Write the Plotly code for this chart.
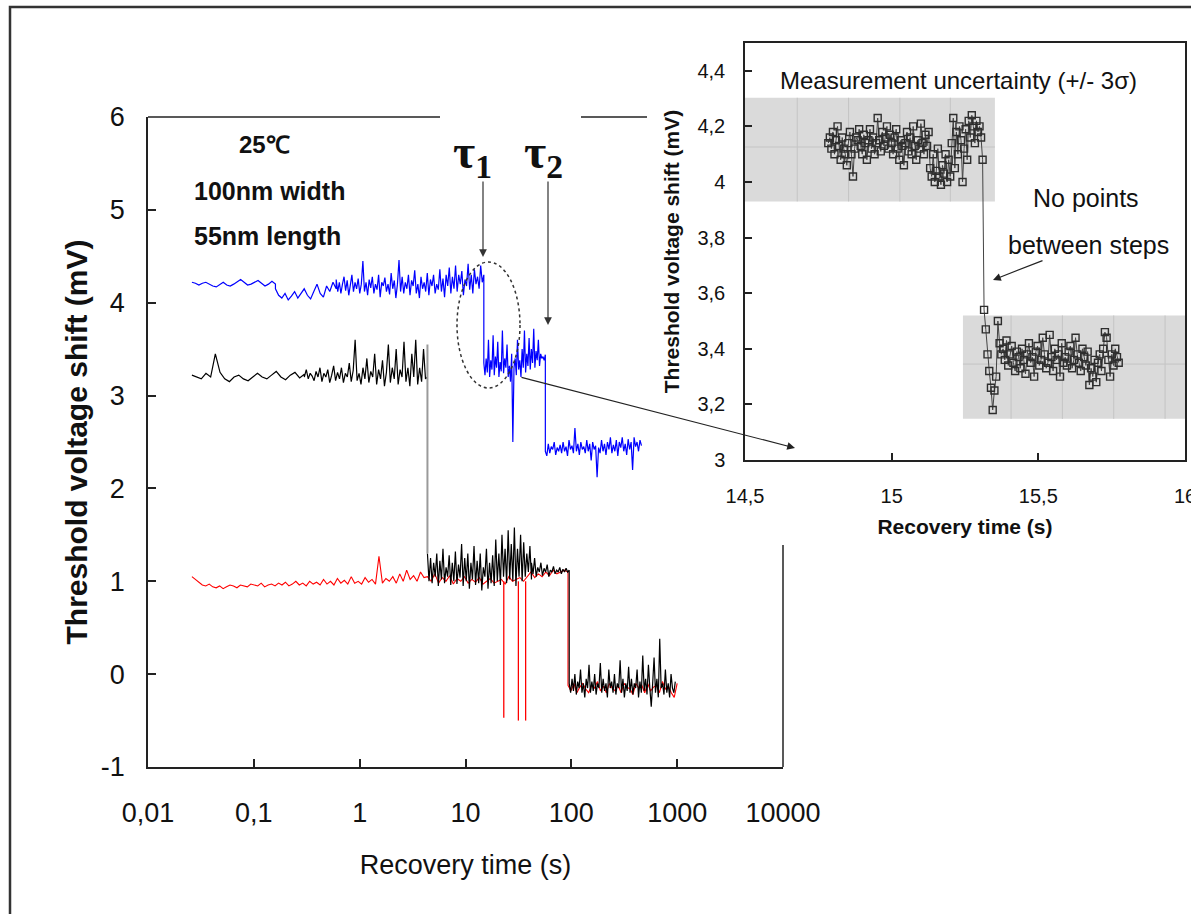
import numpy as np
import plotly.graph_objects as go

# ---------------- data ----------------
# main chart: each segment = (t_start, t_end) and the values along it
blue_seg_bounds = [(0.026, 0.16), (0.16, 0.6), (0.6, 14.9), (14.9, 56.8), (56.8, 460)]
blue_seg_vals = [
    [4.22, 4.21, 4.19, 4.21, 4.22, 4.2, 4.18, 4.17, 4.2, 4.22, 4.19, 4.18, 4.2, 4.23, 4.25, 4.22, 4.19,
     4.2, 4.22, 4.24, 4.21, 4.18, 4.2, 4.23, 4.2],
    [4.15, 4.08, 4.05, 4.1, 4.03, 4.07, 4.12, 4.05, 4.1, 4.15, 4.08, 4.04, 4.12, 4.2, 4.1, 4.06, 4.18,
     4.12, 4.22, 4.15],
    [4.25, 4.12, 4.22, 4.1, 4.2, 4.28, 4.13, 4.24, 4.08, 4.19, 4.3, 4.12, 4.22, 4.15, 4.26, 4.1, 4.2, 4.45,
     4.12, 4.22, 4.08, 4.25, 4.16, 4.28, 4.1, 4.2, 4.14, 4.3, 4.06, 4.22, 4.18, 4.27, 4.12, 4.2, 4.09, 4.32,
     4.15, 4.24, 4.05, 4.2, 4.46, 4.12, 4.28, 4.1, 4.22, 4.15, 4.3, 4.08, 4.24, 4.18, 4.35, 4.1, 4.2, 4.05,
     4.28, 4.15, 4.22, 4.12, 4.32, 4.08, 4.25, 4.18, 4.3, 4.1, 4.2, 4.14, 4.36, 4.12, 4.26, 4.06, 4.3, 4.18,
     4.38, 4.1, 4.28, 4.15, 4.4, 4.12, 4.3, 4.2, 4.34, 4.08, 4.25, 4.18, 4.42, 4.14, 4.3, 4.1, 4.36, 4.2,
     4.28, 4.15, 4.4, 4.22, 4.3],
    [3.35, 3.22, 3.4, 3.25, 3.6, 3.2, 3.38, 3.28, 3.65, 3.22, 3.42, 3.3, 3.58, 3.2, 3.36, 3.26, 3.7, 3.24,
     3.4, 3.3, 3.55, 3.2, 3.32, 3.15, 3.45, 2.5, 3.3, 3.4, 3.22, 3.6, 3.28, 3.38, 3.2, 3.5, 3.3, 3.7, 3.25,
     3.45, 3.32, 3.62, 3.28, 3.5, 3.35, 3.72, 3.3, 3.48, 3.38, 3.6, 3.32, 3.45, 3.4, 3.42, 3.38, 3.44],
    [2.4, 2.35, 2.48, 2.38, 2.45, 2.42, 2.5, 2.36, 2.44, 2.4, 2.47, 2.38, 2.5, 2.4, 2.45, 2.35, 2.52, 2.42,
     2.46, 2.38, 2.65, 2.4, 2.48, 2.36, 2.5, 2.42, 2.45, 2.38, 2.52, 2.4, 2.48, 2.3, 2.5, 2.42, 2.46, 2.12,
     2.44, 2.38, 2.52, 2.4, 2.48, 2.36, 2.5, 2.42, 2.55, 2.38, 2.47, 2.4, 2.52, 2.35, 2.5, 2.44, 2.55, 2.4,
     2.48, 2.36, 2.53, 2.42, 2.5, 2.2, 2.55, 2.45, 2.5, 2.4, 2.52, 2.46],
]

black_seg_bounds = [(0.026, 0.3), (0.3, 4.37), (4.37, 42), (42, 95.5), (95.5, 960)]
black_seg_vals = [
    [3.22, 3.2, 3.18, 3.24, 3.2, 3.45, 3.25, 3.18, 3.15, 3.2, 3.22, 3.18, 3.16, 3.2, 3.24, 3.2, 3.18, 3.22,
     3.26, 3.2, 3.17, 3.22, 3.25, 3.19, 3.23],
    [3.2, 3.28, 3.18, 3.24, 3.21, 3.16, 3.26, 3.2, 3.3, 3.15, 3.24, 3.2, 3.28, 3.14, 3.22, 3.32, 3.16, 3.25,
     3.18, 3.3, 3.14, 3.24, 3.2, 3.35, 3.15, 3.27, 3.6, 3.16, 3.24, 3.12, 3.3, 3.18, 3.4, 3.14, 3.26, 3.2,
     3.45, 3.12, 3.28, 3.18, 3.38, 3.1, 3.25, 3.55, 3.14, 3.3, 3.18, 3.5, 3.12, 3.28, 3.2, 3.58, 3.15, 3.3,
     3.1, 3.45, 3.2, 3.6, 3.12, 3.3, 3.15, 3.5, 3.18, 3.2],
    [1.3, 1.0, 1.25, 0.98, 1.2, 1.05, 1.3, 0.95, 1.22, 1.02, 1.35, 0.98, 1.15, 1.05, 1.28, 0.96, 1.2, 1.0,
     1.32, 0.97, 1.18, 1.04, 1.4, 0.95, 1.25, 1.0, 1.3, 0.92, 1.2, 1.02, 1.38, 0.96, 1.22, 0.98, 1.3, 0.9,
     1.15, 1.05, 1.35, 0.92, 1.2, 0.98, 1.28, 0.95, 1.45, 1.0, 1.3, 0.96, 1.5, 1.05, 1.35, 0.98, 1.55, 1.02,
     1.4, 1.0, 1.58, 0.95, 1.35, 1.05, 1.5, 1.0, 1.42, 1.05, 1.3, 1.1, 1.38, 1.02],
    [1.2, 1.08, 1.25, 1.05, 1.15, 1.1, 1.2, 1.06, 1.14, 1.1, 1.18, 1.05, 1.12, 1.1, 1.16, 1.08, 1.12, 1.1,
     1.15, 1.08, 1.13, 1.1, 1.14, 1.1, 1.12],
    [-0.1, -0.2, -0.05, -0.18, 0.0, -0.22, -0.08, -0.15, 0.05, -0.2, -0.1, -0.25, -0.05, -0.15, 0.1, -0.2,
     -0.08, -0.18, 0.0, -0.22, -0.1, -0.15, 0.12, -0.2, -0.05, -0.18, -0.1, -0.25, 0.05, -0.15, -0.08, -0.2,
     0.0, -0.22, -0.1, -0.15, 0.15, -0.2, -0.05, -0.25, -0.1, -0.18, 0.08, -0.2, -0.05, -0.22, -0.1, -0.15,
     0.05, -0.25, -0.08, -0.2, 0.2, -0.18, -0.05, -0.22, 0.1, -0.15, -0.35, -0.1, 0.18, -0.2, -0.05, -0.25,
     0.38, -0.15, -0.1, -0.22, 0.05, -0.2, -0.1, -0.25, 0.0, -0.15, -0.2, -0.08],
]
black_step_t = [4.37, 4.37]
black_step_v = [3.55, 1.3]

red_seg_bounds = [(0.026, 4.37), (4.37, 93), (93, 1000)]
red_seg_vals = [
    [1.05, 1.02, 0.98, 0.96, 0.95, 0.97, 0.94, 0.93, 0.95, 0.92, 0.94, 0.96, 0.95, 0.93, 0.96, 0.95, 0.94,
     0.97, 0.96, 0.95, 0.98, 0.94, 0.96, 0.97, 0.95, 0.98, 0.96, 0.99, 0.95, 0.97, 1.0, 0.96, 0.98, 0.95,
     1.0, 0.97, 0.99, 0.96, 1.02, 0.97, 1.0, 0.96, 1.03, 0.98, 1.01, 0.97, 1.05, 0.98, 1.0, 0.97, 1.04,
     0.99, 1.02, 0.97, 1.27, 0.98, 1.03, 1.0, 1.05, 0.98, 1.08, 1.0, 1.12, 1.02, 1.06, 1.0, 1.1, 1.04, 1.05],
    [1.05, 1.0, 1.08, 0.98, 1.04, 1.0, 1.06, 0.97, 1.03, 1.0, 1.05, 0.98, 1.02, 0.99, 1.04, 0.97, 1.0, 1.03,
     0.98, 1.0, 1.02, 0.97, 1.05, 1.0, 1.02, 1.04, 1.0, 1.05, 1.1, 1.04, 1.08, 1.05, 1.1, 1.06, 1.12, 1.08,
     1.1, 1.12, 1.1],
    [-0.12, -0.18, -0.1, -0.2, -0.14, -0.1, -0.16, -0.2, -0.12, -0.15, -0.08, -0.18, -0.13, -0.2, -0.1,
     -0.15, -0.18, -0.12, -0.2, -0.1, -0.14, -0.16, -0.22, -0.1, -0.15, -0.12, -0.2, -0.1, -0.18, -0.14,
     -0.12, -0.2, -0.08, -0.16, -0.13, -0.2, -0.25, -0.1],
]
red_spike_t = [23, 31.6, 37]
red_spike_top = [1.0, 1.0, 1.0]
red_spike_low = [-0.47, -0.5, -0.5]

# inset (zoom around tau1)
inset_a_bounds = (14.784, 15.31)
inset_a_vals = [4.14, 4.16, 4.12, 4.18, 4.1, 4.15, 4.2, 4.13, 4.08, 4.16, 4.12, 4.1, 4.06, 4.14, 4.18, 4.1,
                4.02, 4.12, 4.16, 4.15, 4.19, 4.13, 4.1, 4.17, 4.14, 4.08, 4.15, 4.19, 4.12, 4.16, 4.1, 4.14,
                4.23, 4.15, 4.11, 4.18, 4.13, 4.16, 4.2, 4.12, 4.17, 4.14, 4.1, 4.16, 4.19, 4.12, 4.08, 4.15,
                4.13, 4.06, 4.14, 4.18, 4.11, 4.16, 4.1, 4.2, 4.13, 4.08, 4.15, 4.12, 4.21, 4.14, 4.1, 4.17,
                4.13, 4.18, 4.05, 4.02, 4.1, 4.0, 4.04, 4.12, 4.02, 3.99, 4.06, 4.03, 4.1, 4.0, 4.08, 4.02,
                4.14, 4.23, 4.05, 4.18, 4.1, 4.2, 4.15, 4.0, 4.12, 4.19, 4.08, 4.22, 4.16, 4.24, 4.2, 4.14,
                4.22, 4.18, 4.2, 4.16, 4.08]
inset_b_bounds = (15.315, 15.774)
inset_b_vals = [3.54, 3.47, 3.38, 3.32, 3.26, 3.18, 3.25, 3.3, 3.5, 3.42, 3.38, 3.4, 3.36, 3.43, 3.34, 3.38,
                3.41, 3.35, 3.32, 3.39, 3.37, 3.33, 3.4, 3.36, 3.31, 3.38, 3.42, 3.35, 3.37, 3.3, 3.39, 3.41,
                3.34, 3.36, 3.44, 3.38, 3.33, 3.35, 3.45, 3.37, 3.32, 3.4, 3.36, 3.38, 3.3, 3.42, 3.35, 3.37,
                3.34, 3.39, 3.41, 3.33, 3.36, 3.44, 3.38, 3.35, 3.32, 3.4, 3.37, 3.34, 3.39, 3.27, 3.33, 3.3,
                3.36, 3.28, 3.35, 3.38, 3.32, 3.4, 3.46, 3.44, 3.36, 3.3, 3.38, 3.34, 3.4, 3.37, 3.35]
band_a = dict(x0=14.5, x1=15.352, y0=3.93, y1=4.303)
band_b = dict(x0=15.243, x1=16.0, y0=3.148, y1=3.52)
band_a_mean = 4.126
band_b_mean = 3.345
band_a_grid = [14.678, 14.853, 15.028, 15.2]
band_b_grid = [15.407, 15.582, 15.757, 15.932]

main_xticks = [0.01, 0.1, 1, 10, 100, 1000, 10000]
main_xticktext = ["0,01", "0,1", "1", "10", "100", "1000", "10000"]
main_yticks = [-1, 0, 1, 2, 3, 4, 5, 6]
main_yticktext = ["-1", "0", "1", "2", "3", "4", "5", "6"]
inset_xticks = [14.5, 15, 15.5, 16]
inset_xticktext = ["14,5", "15", "15,5", "16"]
inset_yticks = [3, 3.2, 3.4, 3.6, 3.8, 4, 4.2, 4.4]
inset_yticktext = ["3", "3,2", "3,4", "3,6", "3,8", "4", "4,2", "4,4"]

# ---------------- helpers ----------------
W, H = 1191, 914
FONT = "Liberation Sans, Arial, sans-serif"


def px(x):
    return x / W


def py(y):
    return 1 - y / H


def build(bounds, vals):
    xs, ys = [], []
    for (a, b), v in zip(bounds, vals):
        xs.extend(np.geomspace(a, b, len(v)).tolist())
        ys.extend(v)
    return xs, ys


fig = go.Figure()

# red (underneath)
rx, ry = build(red_seg_bounds, red_seg_vals)
fig.add_trace(go.Scatter(x=rx, y=ry, mode="lines", line=dict(color="#ff0000", width=1.1),
                         name="red", showlegend=False, xaxis="x", yaxis="y"))
sx, sy = [], []
for t, a, b in zip(red_spike_t, red_spike_top, red_spike_low):
    sx += [t, t, None]
    sy += [a, b, None]
fig.add_trace(go.Scatter(x=sx, y=sy, mode="lines", line=dict(color="#ff0000", width=1.3),
                         showlegend=False, xaxis="x", yaxis="y"))

# black
bx, by = build(black_seg_bounds[:2], black_seg_vals[:2])
fig.add_trace(go.Scatter(x=bx, y=by, mode="lines", line=dict(color="#000000", width=1.2),
                         showlegend=False, xaxis="x", yaxis="y"))
bx2, by2 = build(black_seg_bounds[2:], black_seg_vals[2:])
fig.add_trace(go.Scatter(x=bx2, y=by2, mode="lines", line=dict(color="#000000", width=1.2),
                         showlegend=False, xaxis="x", yaxis="y"))
fig.add_trace(go.Scatter(x=black_step_t, y=black_step_v, mode="lines", line=dict(color="#9a9a9a", width=2),
                         showlegend=False, xaxis="x", yaxis="y"))

# blue
ux, uy = build(blue_seg_bounds, blue_seg_vals)
fig.add_trace(go.Scatter(x=ux, y=uy, mode="lines", line=dict(color="#0000ff", width=1.2),
                         showlegend=False, xaxis="x", yaxis="y"))

# inset data
ia_x = np.linspace(inset_a_bounds[0], inset_a_bounds[1], len(inset_a_vals)).tolist()
ib_x = np.linspace(inset_b_bounds[0], inset_b_bounds[1], len(inset_b_vals)).tolist()
fig.add_trace(go.Scatter(x=ia_x + ib_x, y=inset_a_vals + inset_b_vals, mode="lines+markers",
                         line=dict(color="#444444", width=1),
                         marker=dict(symbol="square-open", size=7, color="#2e2e2e", line=dict(width=1.4)),
                         showlegend=False, xaxis="x2", yaxis="y2"))

shapes = []
# inset uncertainty bands and their faint grid
for band in (band_a, band_b):
    shapes.append(dict(type="rect", xref="x2", yref="y2", layer="below", fillcolor="#dadada",
                       line=dict(width=0), **band))
for g in band_a_grid:
    shapes.append(dict(type="line", xref="x2", yref="y2", layer="below", x0=g, x1=g,
                       y0=band_a["y0"], y1=band_a["y1"], line=dict(color="#c4c4c4", width=1)))
for g in band_b_grid:
    shapes.append(dict(type="line", xref="x2", yref="y2", layer="below", x0=g, x1=g,
                       y0=band_b["y0"], y1=band_b["y1"], line=dict(color="#c4c4c4", width=1)))
shapes.append(dict(type="line", xref="x2", yref="y2", layer="below", x0=band_a["x0"], x1=band_a["x1"],
                   y0=band_a_mean, y1=band_a_mean, line=dict(color="#c4c4c4", width=1)))
shapes.append(dict(type="line", xref="x2", yref="y2", layer="below", x0=band_b["x0"], x1=band_b["x1"],
                   y0=band_b_mean, y1=band_b_mean, line=dict(color="#c4c4c4", width=1)))

# main plot frame parts (top and right, partly hidden by labels and inset)
shapes += [
    dict(type="line", xref="paper", yref="paper", x0=px(148), x1=px(440), y0=py(117), y1=py(117),
         line=dict(color="#222", width=1.5)),
    dict(type="line", xref="paper", yref="paper", x0=px(581), x1=px(647), y0=py(117), y1=py(117),
         line=dict(color="#222", width=1.5)),
    dict(type="line", xref="paper", yref="paper", x0=px(783), x1=px(783), y0=py(545), y1=py(767),
         line=dict(color="#222", width=1.5)),
    # outer frame
    dict(type="rect", xref="paper", yref="paper", x0=px(10), x1=px(1205), y0=py(930), y1=py(7),
         line=dict(color="#333", width=2.5)),
    # dotted ellipse round tau1
    dict(type="circle", xref="paper", yref="paper", x0=px(457), x1=px(520), y0=py(388), y1=py(262),
         line=dict(color="#333", width=1.5, dash="dot")),
]


def label(text, x, y, size, family=FONT, xanchor="center"):
    return dict(text=text, x=px(x), y=py(y), xref="paper", yref="paper", showarrow=False,
                xanchor=xanchor, yanchor="middle", font=dict(family=family, size=size, color="#111"))


def arrow(xh, yh, ax, ay, color="#333"):
    return dict(text="", x=px(xh), y=py(yh), xref="paper", yref="paper", showarrow=True, ax=ax, ay=ay,
                xanchor="center", yanchor="middle",
                arrowhead=2, arrowsize=1.3, arrowwidth=1.2, arrowcolor=color)


annotations = [
    label("<b>25℃</b>", 264, 144, 24),
    label("<b>100nm width</b>", 192, 191, 25, xanchor="left"),
    label("<b>55nm length</b>", 192, 236, 25, xanchor="left"),
    label("<b>τ<sub>1</sub></b>", 472, 155, 48, family="Liberation Serif, serif"),
    label("<b>τ<sub>2</sub></b>", 543, 155, 48, family="Liberation Serif, serif"),
    arrow(483, 257, 0, -77),
    arrow(548, 325, 0, -145),
    arrow(795, 448, -275, -71, "#222"),
    label("Measurement uncertainty (+/- 3σ)", 958, 80, 24),
    label("No points", 1086, 198, 25),
    label("between steps", 1088, 245, 25),
    arrow(993, 280, 51, -20, "#222"),
]

fig.update_layout(
    width=W, height=H, margin=dict(l=0, r=0, t=0, b=0, pad=0), autosize=False,
    paper_bgcolor="white", plot_bgcolor="white", showlegend=False,
    font=dict(family=FONT, color="#111"),
    xaxis=dict(type="log", range=[-2, 4], domain=[px(148), px(783)], anchor="y", automargin=False,
               showline=True, linecolor="#222", linewidth=1.5, mirror=False,
               ticks="inside", ticklen=8, tickcolor="#222", tickwidth=1.5,
               tickvals=main_xticks, ticktext=main_xticktext, ticklabelstandoff=21,
               tickfont=dict(family=FONT, size=27, color="#111"),
               showgrid=False, zeroline=False,
               title=dict(text="Recovery time (s)", font=dict(family=FONT, size=27, color="#111"),
                          standoff=28)),
    yaxis=dict(range=[-1, 6], domain=[py(767), py(117)], anchor="x", automargin=False,
               showline=True, linecolor="#222", linewidth=1.5, mirror=False,
               ticks="inside", ticklen=8, tickcolor="#222", tickwidth=1.5,
               tickvals=main_yticks, ticktext=main_yticktext, ticklabelstandoff=16,
               tickfont=dict(family=FONT, size=27, color="#111"),
               showgrid=False, zeroline=False,
               title=dict(text="<b>Threshold voltage shift (mV)</b>",
                          font=dict(family=FONT, size=30, color="#111"), standoff=4)),
    xaxis2=dict(range=[14.5, 16], domain=[px(745), px(1185)], anchor="y2", automargin=False,
                showline=True, linecolor="#222", linewidth=1.5, mirror=True,
                ticks="inside", ticklen=7, tickcolor="#222", tickwidth=1.5,
                tickvals=inset_xticks, ticktext=inset_xticktext, ticklabelstandoff=17,
                ticklabeloverflow="allow",
                tickfont=dict(family=FONT, size=20, color="#111"),
                showgrid=False, zeroline=False,
                title=dict(text="<b>Recovery time (s)</b>", font=dict(family=FONT, size=21, color="#111"),
                           standoff=14)),
    yaxis2=dict(range=[3, 4.5], domain=[py(460), py(43)], anchor="x2", automargin=False,
                showline=True, linecolor="#222", linewidth=1.5, mirror=True,
                ticks="inside", ticklen=7, tickcolor="#222", tickwidth=1.5,
                tickvals=inset_yticks, ticktext=inset_yticktext, ticklabelstandoff=14,
                tickfont=dict(family=FONT, size=20, color="#111"),
                showgrid=False, zeroline=False,
                title=dict(text="<b>Threshold voltage shift (mV)</b>",
                           font=dict(family=FONT, size=21, color="#111"), standoff=12)),
    shapes=shapes, annotations=annotations,
)

fig.write_html("out.html")
